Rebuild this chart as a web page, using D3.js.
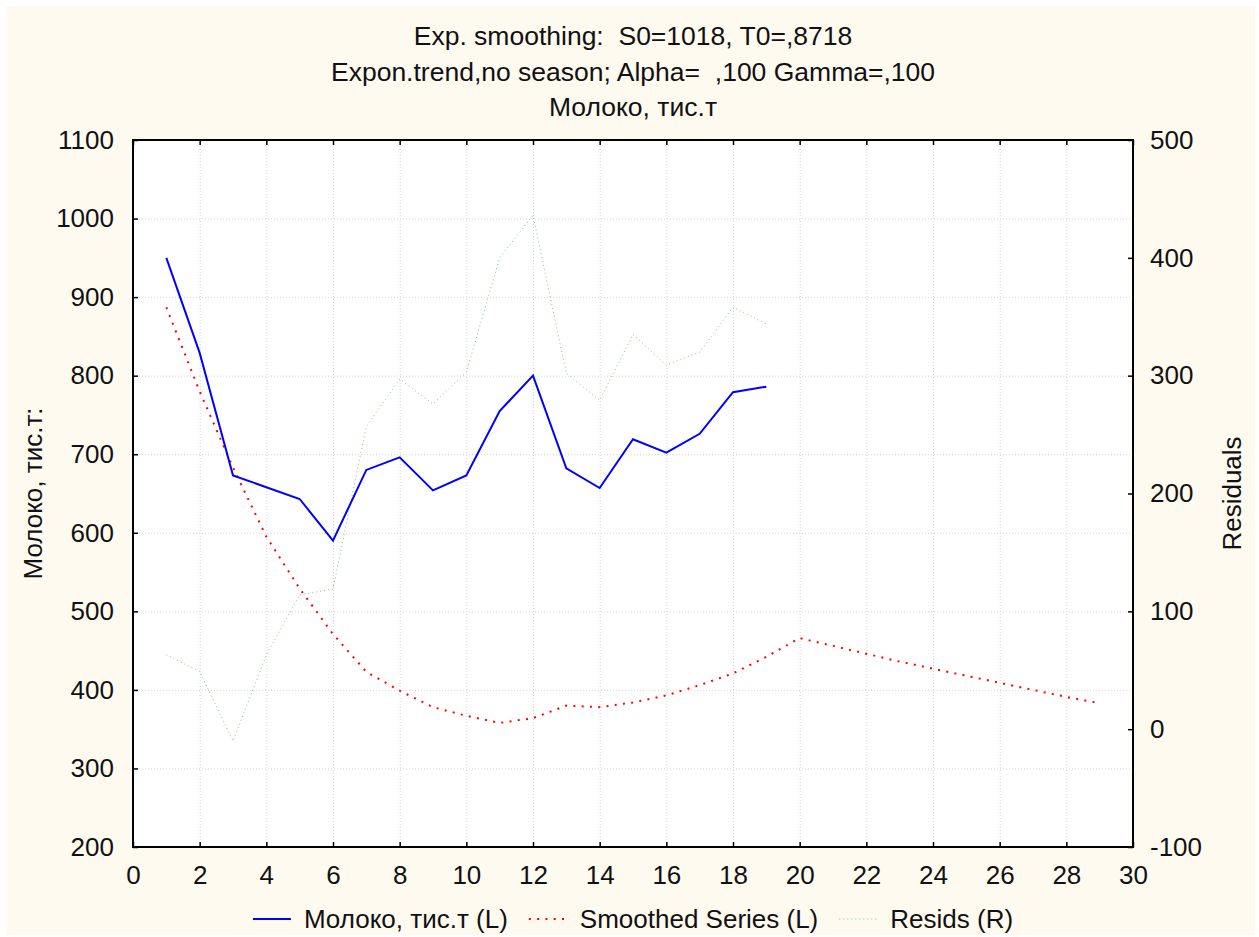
<!DOCTYPE html>
<html>
<head>
<meta charset="utf-8">
<script src="https://cdn.jsdelivr.net/npm/d3@7"></script>
<style>
  body { margin: 0; background: #ffffff; }
  svg text { font-family: "Liberation Sans", Arial, sans-serif; fill: #111; white-space: pre; }
</style>
</head>
<body>
<svg id="chart" width="1259" height="937"></svg>
<script>
// Observed series, periods 1..19
const milkPeriods = [1, 2, 3, 4, 5, 6, 7, 8, 9, 10, 11, 12, 13, 14, 15, 16, 17, 18, 19];
const milkValues = [950, 829, 673, 658, 643, 590, 680, 696, 654, 673, 755, 800, 682, 657, 719, 702, 726, 779, 786];

// Smoothed series incl. forecast, periods 1..29
const smoothPeriods = [1, 2, 3, 4, 5, 6, 7, 8, 9, 10, 11, 12, 13, 14, 15, 16, 17, 18, 19, 20, 21, 22, 23, 24, 25, 26, 27, 28, 29];
const smoothValues = [887, 780, 683, 595, 529, 471, 423, 399, 378, 367, 358, 364, 380, 378, 384, 393, 406, 421, 442,
  466, 456, 446, 436, 427, 418, 409, 400, 391, 383];

// Residuals (right axis), periods 1..19
const residValues = [63, 49, -10, 63, 114, 119, 257, 297, 276, 303, 400, 436, 302, 279, 335, 309, 320, 358, 344];

const xTicks = [0, 2, 4, 6, 8, 10, 12, 14, 16, 18, 20, 22, 24, 26, 28, 30];
const yLeftTicks = [200, 300, 400, 500, 600, 700, 800, 900, 1000, 1100];
const yRightTicks = [-100, 0, 100, 200, 300, 400, 500];

const titleLines = [
  'Exp. smoothing:  S0=1018, T0=,8718',
  'Expon.trend,no season; Alpha=  ,100 Gamma=,100',
  'Молоко, тис.т'
];

const legendItems = [
  { label: 'Молоко, тис.т (L)', color: '#0000ff', dash: null, width: 2 },
  { label: 'Smoothed Series (L)', color: '#ff0000', dash: '2,6.3', width: 2 },
  { label: 'Resids (R)', color: '#7cc47c', dash: '1,3', width: 1 }
];

const svg = d3.select('#chart');
const fontSize = 26;

// cream page background with thin white margin
svg.append('rect')
  .attr('x', 6).attr('y', 6)
  .attr('width', 1249).attr('height', 929)
  .attr('fill', '#fffaf0');

const plot = { left: 133, right: 1133, top: 140, bottom: 847 };

const xScale = d3.scaleLinear().domain([0, 30]).range([plot.left, plot.right]);
const yLeft = d3.scaleLinear().domain([200, 1100]).range([plot.bottom, plot.top]);
const yRight = d3.scaleLinear().domain([-100, 500]).range([plot.bottom, plot.top]);

svg.append('rect')
  .attr('x', plot.left).attr('y', plot.top)
  .attr('width', plot.right - plot.left).attr('height', plot.bottom - plot.top)
  .attr('fill', '#ffffff');

// grid lines (dotted)
const grid = svg.append('g').attr('class', 'grid')
  .attr('stroke', '#d4d4d4').attr('stroke-width', 1).attr('stroke-dasharray', '1,2');

grid.selectAll('line.gx')
  .data(xTicks.filter(d => d > 0 && d < 30))
  .join('line')
  .attr('class', 'gx')
  .attr('x1', d => xScale(d) + 0.5).attr('x2', d => xScale(d) + 0.5)
  .attr('y1', plot.top).attr('y2', plot.bottom);

grid.selectAll('line.gy')
  .data(yLeftTicks.filter(d => d > 200 && d < 1100))
  .join('line')
  .attr('class', 'gy')
  .attr('y1', d => yLeft(d) + 0.5).attr('y2', d => yLeft(d) + 0.5)
  .attr('x1', plot.left).attr('x2', plot.right);

// axes with inward ticks, plain number labels (no thousands comma, ascii minus)
const tickLen = 5;
const plain = d => String(d);
const axisBottom = d3.axisBottom(xScale).tickValues(xTicks).tickSize(-tickLen).tickPadding(tickLen + 14).tickFormat(plain);
const axisTop = d3.axisTop(xScale).tickValues(xTicks).tickSize(-tickLen).tickFormat('');
const axisLeft = d3.axisLeft(yLeft).tickValues(yLeftTicks).tickSize(-tickLen).tickPadding(tickLen + 14).tickFormat(plain);
const axisRight = d3.axisRight(yRight).tickValues(yRightTicks).tickSize(-tickLen).tickPadding(tickLen + 12).tickFormat(plain);

const styleAxis = g => {
  g.select('.domain').remove();
  g.selectAll('.tick line').attr('stroke', '#000').attr('stroke-width', 1.5);
  g.selectAll('.tick text')
    .attr('font-size', fontSize)
    .attr('font-family', '"Liberation Sans", Arial, sans-serif')
    .attr('fill', '#111');
};

svg.append('g').attr('transform', `translate(0,${plot.bottom})`).call(axisBottom).call(styleAxis);
svg.append('g').attr('transform', `translate(0,${plot.top})`).call(axisTop).call(styleAxis);
svg.append('g').attr('transform', `translate(${plot.left},0)`).call(axisLeft).call(styleAxis);
svg.append('g').attr('transform', `translate(${plot.right},0)`).call(axisRight).call(styleAxis);

// frame
svg.append('rect')
  .attr('x', plot.left).attr('y', plot.top)
  .attr('width', plot.right - plot.left).attr('height', plot.bottom - plot.top)
  .attr('fill', 'none').attr('stroke', '#000').attr('stroke-width', 2);

// series
const lineLeft = d3.line().x(d => xScale(d[0])).y(d => yLeft(d[1]));
const lineRight = d3.line().x(d => xScale(d[0])).y(d => yRight(d[1]));

svg.append('path')
  .datum(milkPeriods.map((p, i) => [p, residValues[i]]))
  .attr('d', lineRight)
  .attr('fill', 'none')
  .attr('stroke', legendItems[2].color)
  .attr('stroke-width', legendItems[2].width)
  .attr('stroke-dasharray', legendItems[2].dash);

svg.append('path')
  .datum(smoothPeriods.map((p, i) => [p, smoothValues[i]]))
  .attr('d', lineLeft)
  .attr('fill', 'none')
  .attr('stroke', legendItems[1].color)
  .attr('stroke-width', legendItems[1].width)
  .attr('stroke-dasharray', legendItems[1].dash);

svg.append('path')
  .datum(milkPeriods.map((p, i) => [p, milkValues[i]]))
  .attr('d', lineLeft)
  .attr('fill', 'none')
  .attr('stroke', legendItems[0].color)
  .attr('stroke-width', legendItems[0].width)
  .attr('stroke-linejoin', 'miter');

// titles
svg.append('g')
  .selectAll('text')
  .data(titleLines)
  .join('text')
  .attr('x', (plot.left + plot.right) / 2)
  .attr('y', (d, i) => 45 + i * 35.5)
  .attr('text-anchor', 'middle')
  .attr('font-size', 26.5)
  .text(d => d);

// axis titles
const midY = (plot.top + plot.bottom) / 2;
svg.append('text')
  .attr('transform', `translate(42,${midY}) rotate(-90)`)
  .attr('text-anchor', 'middle')
  .attr('font-size', fontSize)
  .text('Молоко, тис.т:');

svg.append('text')
  .attr('transform', `translate(1241,${midY}) rotate(-90)`)
  .attr('text-anchor', 'middle')
  .attr('font-size', fontSize)
  .text('Residuals');

// legend, centred under the plot
const legend = svg.append('g');
const legendY = 919;
let cursor = 0;
legendItems.forEach(item => {
  const g = legend.append('g').attr('transform', `translate(${cursor},0)`);
  g.append('line')
    .attr('x1', 0).attr('x2', 38)
    .attr('y1', legendY).attr('y2', legendY)
    .attr('stroke', item.color)
    .attr('stroke-width', item.width)
    .attr('stroke-dasharray', item.dash);
  const t = g.append('text')
    .attr('x', 51).attr('y', legendY + 9)
    .attr('font-size', fontSize)
    .text(item.label);
  cursor += 51 + t.node().getComputedTextLength() + 21;
});
cursor -= 21;
legend.attr('transform', `translate(${(plot.left + plot.right) / 2 - cursor / 2},0)`);
</script>
</body>
</html>
